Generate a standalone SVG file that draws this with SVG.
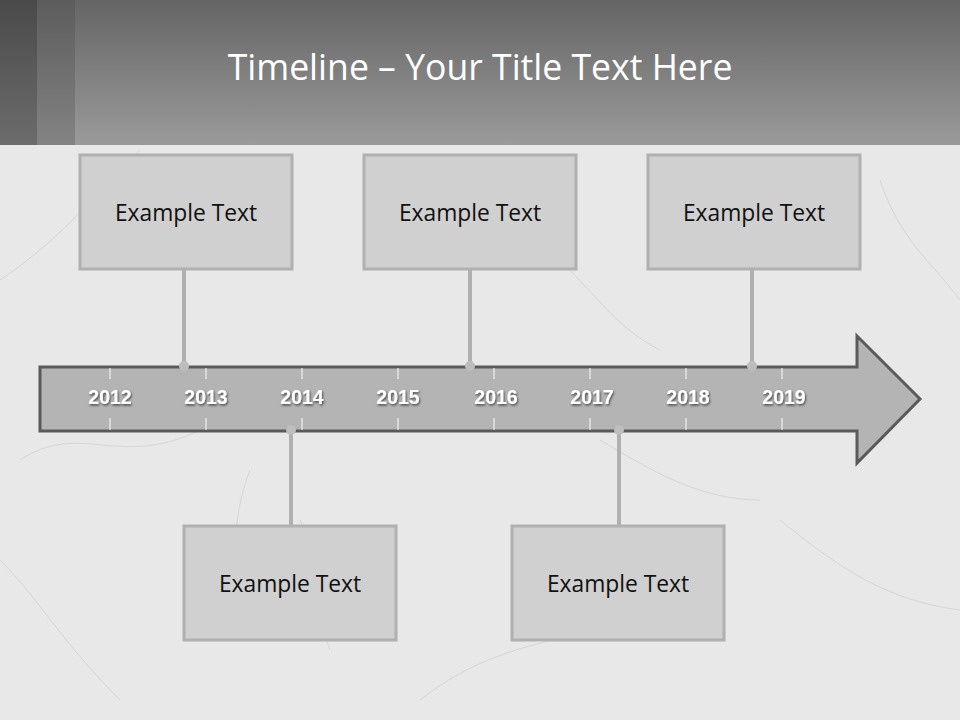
<svg xmlns="http://www.w3.org/2000/svg" width="960" height="720" viewBox="0 0 960 720">
<defs>
<linearGradient id="hdr" x1="0" y1="0" x2="0" y2="1"><stop offset="0" stop-color="#656565"/><stop offset="1" stop-color="#9a9a9a"/></linearGradient>
<linearGradient id="s1" x1="0" y1="0" x2="0" y2="1"><stop offset="0" stop-color="#4a4a4a"/><stop offset="1" stop-color="#6c6c6c"/></linearGradient>
<linearGradient id="s2" x1="0" y1="0" x2="0" y2="1"><stop offset="0" stop-color="#5c5c5c"/><stop offset="1" stop-color="#838383"/></linearGradient>
<filter id="sh" x="-20%" y="-20%" width="140%" height="160%"><feDropShadow dx="1" dy="1.5" stdDeviation="0.8" flood-color="#000" flood-opacity="0.6"/></filter>
</defs>
<style>
.box{fill:#d0d0d0;stroke:#b0b0b0;stroke-width:3}
.lbl{font-family:"Open Sans","Noto Sans",sans-serif;font-size:22.8px;fill:#111;text-anchor:middle}
.yr{font-family:"Liberation Sans",Arial,sans-serif;font-weight:bold;font-size:19.5px;fill:#fff;text-anchor:middle}
.tick{stroke:#fff;stroke-width:1}
.con{stroke:#b0b0b0;stroke-width:4;fill:none}
.dot{fill:#bdbdbd}
.crack{stroke:#d6d6d6;stroke-width:1;fill:none}
</style>
<rect x="0" y="0" width="960" height="720" fill="#e8e8e8"/>
<g id="texture">
<path class="crack" d="M0 280 C60 240 90 200 140 150 M20 460 C80 420 120 470 200 430 M300 520 C320 560 310 600 330 650 M420 700 C520 620 640 640 720 600 M780 520 C830 560 880 600 960 610 M880 180 C900 240 930 260 960 300 M560 260 C600 300 620 330 660 350 M0 560 C40 600 60 640 120 700 M600 440 C650 470 700 500 760 500 M250 470 C230 520 240 560 220 600"/>
</g>
<g id="header">
<rect x="0" y="0" width="960" height="145" fill="url(#hdr)"/>
<rect x="0" y="0" width="37" height="145" fill="url(#s1)"/>
<rect x="37" y="0" width="38" height="145" fill="url(#s2)"/>
<text x="480" y="80" font-family="'Open Sans','Noto Sans',sans-serif" font-size="35.6" fill="#fff" text-anchor="middle">Timeline – Your Title Text Here</text>
</g>
<g id="connectors">
<line class="con" x1="184" y1="269" x2="184" y2="366"/>
<line class="con" x1="470" y1="269" x2="470" y2="366"/>
<line class="con" x1="752" y1="269" x2="752" y2="366"/>
<line class="con" x1="291" y1="431" x2="291" y2="526"/>
<line class="con" x1="619" y1="431" x2="619" y2="526"/>
</g>
<g id="arrow">
<path d="M40 367 L857 367 L857 336 L920 399 L857 463 L857 431 L40 431 Z" fill="#b4b4b4" stroke="#5a5a5a" stroke-width="3" stroke-linejoin="miter"/>
<g id="ticks">
<line class="tick" x1="110" y1="368" x2="110" y2="379"/><line class="tick" x1="110" y1="418" x2="110" y2="430"/>
<line class="tick" x1="206" y1="368" x2="206" y2="379"/><line class="tick" x1="206" y1="418" x2="206" y2="430"/>
<line class="tick" x1="302" y1="368" x2="302" y2="379"/><line class="tick" x1="302" y1="418" x2="302" y2="430"/>
<line class="tick" x1="398" y1="368" x2="398" y2="379"/><line class="tick" x1="398" y1="418" x2="398" y2="430"/>
<line class="tick" x1="494" y1="368" x2="494" y2="379"/><line class="tick" x1="494" y1="418" x2="494" y2="430"/>
<line class="tick" x1="590" y1="368" x2="590" y2="379"/><line class="tick" x1="590" y1="418" x2="590" y2="430"/>
<line class="tick" x1="686" y1="368" x2="686" y2="379"/><line class="tick" x1="686" y1="418" x2="686" y2="430"/>
<line class="tick" x1="782" y1="368" x2="782" y2="379"/><line class="tick" x1="782" y1="418" x2="782" y2="430"/>
</g>
<g id="years" filter="url(#sh)">
<text class="yr" x="110" y="404">2012</text>
<text class="yr" x="206" y="404">2013</text>
<text class="yr" x="302" y="404">2014</text>
<text class="yr" x="398" y="404">2015</text>
<text class="yr" x="496" y="404">2016</text>
<text class="yr" x="592" y="404">2017</text>
<text class="yr" x="688" y="404">2018</text>
<text class="yr" x="784" y="404">2019</text>
</g>
</g>
<g id="dots">
<circle class="dot" cx="184" cy="366" r="5"/>
<circle class="dot" cx="470" cy="366" r="5"/>
<circle class="dot" cx="752" cy="366" r="5"/>
<circle class="dot" cx="291" cy="430" r="5"/>
<circle class="dot" cx="619" cy="430" r="5"/>
</g>
<g id="box1"><rect class="box" x="80" y="155" width="212" height="114"/><text class="lbl" x="186" y="221">Example Text</text></g>
<g id="box2"><rect class="box" x="364" y="155" width="212" height="114"/><text class="lbl" x="470" y="221">Example Text</text></g>
<g id="box3"><rect class="box" x="648" y="155" width="212" height="114"/><text class="lbl" x="754" y="221">Example Text</text></g>
<g id="box4"><rect class="box" x="184" y="526" width="212" height="114"/><text class="lbl" x="290" y="592">Example Text</text></g>
<g id="box5"><rect class="box" x="512" y="526" width="212" height="114"/><text class="lbl" x="618" y="592">Example Text</text></g>
</svg>
